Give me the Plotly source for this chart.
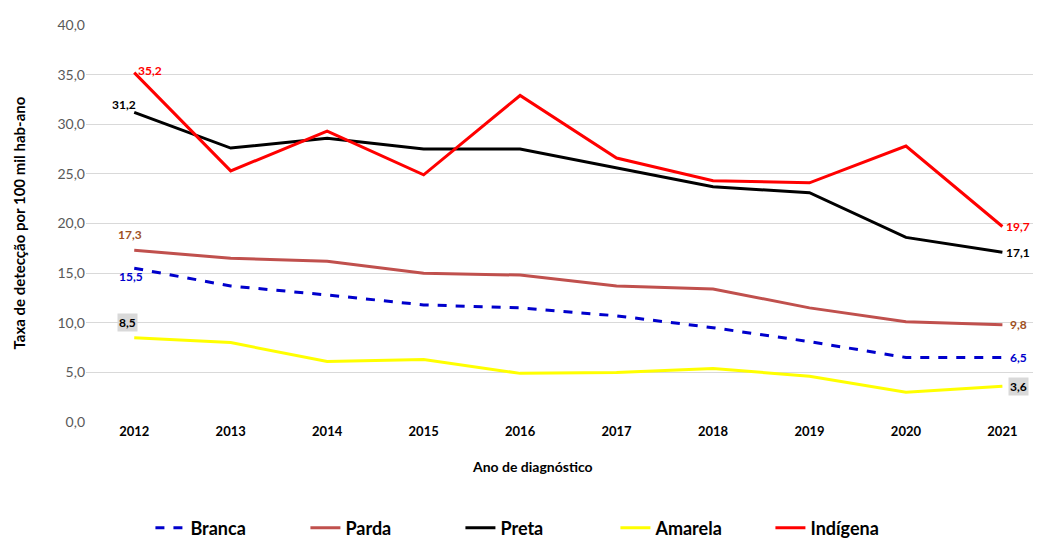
import plotly.graph_objects as go

years = ["2012", "2013", "2014", "2015", "2016", "2017", "2018", "2019", "2020", "2021"]
branca = [15.5, 13.7, 12.8, 11.8, 11.5, 10.7, 9.5, 8.1, 6.5, 6.5]
parda = [17.3, 16.5, 16.2, 15.0, 14.8, 13.7, 13.4, 11.5, 10.1, 9.8]
preta = [31.2, 27.6, 28.6, 27.5, 27.5, 25.6, 23.7, 23.1, 18.6, 17.1]
amarela = [8.5, 8.0, 6.1, 6.3, 4.9, 5.0, 5.4, 4.6, 3.0, 3.6]
indigena = [35.2, 25.3, 29.3, 24.9, 32.9, 26.6, 24.3, 24.1, 27.8, 19.7]
y_ticks = [0, 5, 10, 15, 20, 25, 30, 35, 40]

FONT = "Lato"
fig = go.Figure()
series = [
    ("Branca", branca, "#0000CC", "dash"),
    ("Parda", parda, "#C0504D", "solid"),
    ("Preta", preta, "#000000", "solid"),
    ("Amarela", amarela, "#FFFF00", "solid"),
    ("Indígena", indigena, "#FF0000", "solid"),
]
for name, vals, col, dash in series:
    fig.add_trace(go.Scatter(x=years, y=vals, name=name, mode="lines",
                             line=dict(color=col, width=3, dash=dash)))

def fmt(v):
    return f"{v:.1f}".replace(".", ",")

labels = [
    # (series values, index, color, xshift, yshift, bg)
    (indigena, 0, "#FF0000", 16, 2, None),
    (preta, 0, "#000000", -10, 8, None),
    (parda, 0, "#A0501E", -4, 16, None),
    (branca, 0, "#0000CC", -3, -8, None),
    (amarela, 0, "#000000", -7, 15, "#D9D9D9"),
    (indigena, 9, "#FF0000", 16, 0, None),
    (preta, 9, "#000000", 16, 0, None),
    (parda, 9, "#A0501E", 16, 0, None),
    (branca, 9, "#0000CC", 16, 0, None),
    (amarela, 9, "#000000", 16, 0, "#D9D9D9"),
]
for vals, i, col, xs, ys, bg in labels:
    fig.add_annotation(x=i, y=vals[i], text=fmt(vals[i]), showarrow=False,
                       xref="x", yref="y", xshift=xs, yshift=ys,
                       font=dict(family=FONT, size=12, color=col, weight="bold"),
                       bgcolor=bg if bg else "rgba(0,0,0,0)", borderpad=1)

# axis titles as annotations for exact placement
fig.add_annotation(text="Taxa de detecção por 100 mil hab-ano", textangle=-90,
                   xref="paper", yref="paper", x=-0.0712, y=0.5,
                   xanchor="center", yanchor="middle", showarrow=False,
                   font=dict(family=FONT, size=15, color="#000000", weight="bold"))
fig.add_annotation(text="Ano de diagnóstico",
                   xref="paper", yref="paper", x=0.468, y=-0.113,
                   xanchor="center", yanchor="middle", showarrow=False,
                   font=dict(family=FONT, size=14, color="#000000", weight="bold"))

fig.update_layout(
    width=1033, height=530,
    margin=dict(l=78, r=0, t=17, b=116, autoexpand=False),
    paper_bgcolor="white", plot_bgcolor="white",
    font=dict(family=FONT),
    showlegend=True,
    legend=dict(orientation="h", xref="container", yref="paper",
                x=0.513, xanchor="center", y=-0.267, yanchor="middle",
                font=dict(family=FONT, size=18, color="#000000", weight="bold"),
                entrywidth=110, entrywidthmode="pixels"),
    xaxis=dict(type="category", range=[-0.5, 9.4], showgrid=False, showline=False, ticks="",
               automargin=False,
               tickfont=dict(family=FONT, size=13, color="#000000", weight="bold")),
    yaxis=dict(range=[0, 40], tickvals=y_ticks, ticktext=[fmt(v) for v in y_ticks],
               showgrid=True, gridcolor="#D9D9D9", gridwidth=1, zeroline=False,
               showline=False, ticks="", automargin=False,
               tickfont=dict(family=FONT, size=14, color="#595959")),
)
fig.write_html("out.html")
